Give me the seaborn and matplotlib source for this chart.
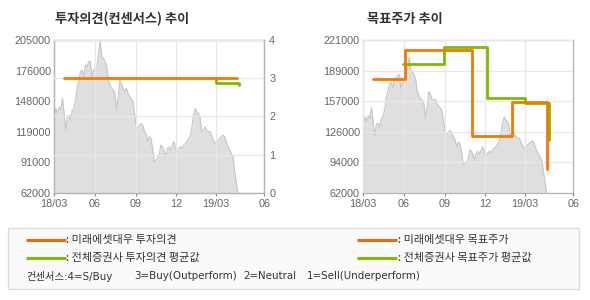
import numpy as np
import pandas as pd
import matplotlib
matplotlib.use("Agg")
import matplotlib.pyplot as plt
from matplotlib.lines import Line2D
from matplotlib.patches import Rectangle
import seaborn as sns

sns.set_theme(style="white")
plt.rcParams['font.family'] = ['Noto Sans CJK KR', 'DejaVu Sans']

# ---------------- data ----------------
price = [133200, 141000, 136300, 142500, 139400, 150400, 136300, 120700, 133200, 134700,
         130100, 139400, 141000, 148800, 161300, 167500, 175300, 176900, 170600, 181600,
         180000, 184700, 184700, 170600, 176900, 178500, 180000, 192500, 203400, 189400,
         187800, 184700, 180000, 167500, 162800, 159700, 158200, 155000, 139400, 151900,
         167500, 164400, 159700, 156600, 159700, 155000, 151900, 150400, 147200, 136300,
         123800, 122300, 125400, 126900, 125400, 119100, 117600, 109800, 114500, 112900,
         103500, 91000, 92600, 94200, 97300, 106600, 105100, 102000, 95700, 103500,
         105100, 102000, 106600, 109800, 103500, 100400, 103500, 105100, 103500, 106600,
         108200, 109800, 112900, 116000, 123800, 134700, 141000, 137900, 136300, 131600,
         119100, 120700, 123800, 120700, 119100, 119100, 116000, 111300, 108200, 109800,
         111300, 112900, 114500, 116000, 114500, 109800, 105100, 102000, 98800, 95700,
         83200, 72300, 62000]
price_start = "2018-03-01"
price_end = "2019-04-20"

opinion_mirae_dates = ["2018-03-23", "2019-04-18"]
opinion_mirae = [3.0, 3.0]
opinion_avg_dates = ["2019-03-01", "2019-03-01", "2019-04-22"]
opinion_avg = [3.0, 2.88, 2.82]

target_mirae_dates = ["2018-03-23", "2018-06-04", "2018-11-01", "2019-02-01", "2019-04-21"]
target_mirae = [180400, 210500, 121300, 156700, 86300]
target_avg_dates = ["2018-05-30", "2018-08-31", "2018-12-05", "2019-03-01", "2019-04-26"]
target_avg = [195700, 214000, 160800, 154900, 116900]

x_tick_dates = ["2018-03-01", "2018-06-01", "2018-09-01", "2018-12-01", "2019-03-01", "2019-06-19"]
x_tick_labels = ["18/03", "06", "09", "12", "19/03", "06"]

left_ylim = (62000, 205000)
left_ytick_labels = ["62000", "91000", "119000", "148000", "176000", "205000"]
opinion_ylim = (0, 4)
opinion_ticks = [0, 1, 2, 3, 4]
right_ylim = (62000, 221000)
right_ytick_labels = ["62000", "94000", "126000", "157000", "189000", "221000"]

titles = ["투자의견(컨센서스) 추이", "목표주가 추이"]
legend_left = [": 미래에셋대우 투자의견", ": 전체증권사 투자의견 평균값"]
legend_right = [": 미래에셋대우 목표주가", ": 전체증권사 목표주가 평균값"]
consensus_note = ["컨센서스:4=S/Buy", "3=Buy(Outperform)", "2=Neutral", "1=Sell(Underperform)"]

# ---------------- style ----------------
ORANGE = "#f77800"
GREEN = "#7fbc00"
LEG_ORANGE = "#e86d0c"
FILL = "#dfdfdf"
EDGE = "#c6c6c6"
GRID = "#e8e8e8"
SPINE = "#b4b4b4"
TICKC = "#666666"
tick_font = dict(family=["Liberation Sans", "DejaVu Sans"], size=7.8)

dates = pd.date_range(price_start, price_end, periods=len(price))
price_df = pd.DataFrame({"date": dates, "price": price})
xt = pd.to_datetime(x_tick_dates)

fig = plt.figure(figsize=(5.9, 3.0), dpi=100)
fig.patch.set_facecolor("white")

W, H = 590.0, 300.0
def fig_rect(x0, y0, x1, y1):
    return [x0 / W, 1 - y1 / H, (x1 - x0) / W, (y1 - y0) / H]

ax1 = fig.add_axes(fig_rect(54.3, 40.0, 264.3, 192.7))
ax3 = fig.add_axes(fig_rect(363.3, 40.0, 573.3, 192.7))


def style_axes(ax, ylim, ylabels):
    ax.set_facecolor("white")
    ax.fill_between(price_df["date"], price_df["price"], ylim[0], color=FILL, lw=0, zorder=1)
    sns.lineplot(data=price_df, x="date", y="price", ax=ax, color=EDGE, lw=0.8,
                 zorder=1.5, estimator=None)
    ax.set_xlim(xt[0], xt[-1])
    ax.set_ylim(*ylim)
    ax.set_xticks(xt)
    ax.set_xticklabels(x_tick_labels, color=TICKC, fontdict=tick_font)
    yt = np.linspace(ylim[0], ylim[1], len(ylabels))
    ax.set_yticks(yt)
    ax.set_yticklabels(ylabels, color=TICKC, fontdict=tick_font)
    ax.tick_params(axis="x", length=2.5, width=0.8, color="#888888", pad=2, bottom=True)
    ax.tick_params(axis="y", length=0, pad=2.5, left=True)
    for s in ax.spines.values():
        s.set_color(SPINE)
        s.set_linewidth(0.9)
        s.set_visible(True)


# ---- left chart ----
style_axes(ax1, left_ylim, left_ytick_labels)
ax1.set_axisbelow(False)
ax1.grid(axis="x", color=GRID, lw=0.9, zorder=2.5)
ax1.grid(axis="y", visible=False)

ax2 = ax1.twinx()
ax2.set_ylim(*opinion_ylim)
ax2.set_yticks(opinion_ticks)
ax2.set_yticklabels([str(t) for t in opinion_ticks], color=TICKC, fontdict=tick_font)
ax2.tick_params(axis="y", length=0, pad=3.5, right=True)
ax2.set_axisbelow(False)
ax2.grid(axis="y", color=GRID, lw=0.9)
ax2.grid(axis="x", visible=False)
for s in ax2.spines.values():
    s.set_color(SPINE)
    s.set_linewidth(0.9)
sns.lineplot(x=pd.to_datetime(opinion_avg_dates), y=opinion_avg, ax=ax2, color=GREEN, lw=2.0,
             drawstyle="steps-post", estimator=None, sort=False, zorder=3)
sns.lineplot(x=pd.to_datetime(opinion_mirae_dates), y=opinion_mirae, ax=ax2, color=ORANGE, lw=2.0,
             drawstyle="steps-post", estimator=None, sort=False, zorder=4)
ax2.set_xlim(xt[0], xt[-1])

# ---- right chart ----
style_axes(ax3, right_ylim, right_ytick_labels)
ax3.set_axisbelow(False)
ax3.grid(axis="both", color=GRID, lw=0.9, zorder=2.5)
sns.lineplot(x=pd.to_datetime(target_avg_dates), y=target_avg, ax=ax3, color=GREEN, lw=2.0,
             drawstyle="steps-post", estimator=None, sort=False, zorder=3)
sns.lineplot(x=pd.to_datetime(target_mirae_dates), y=target_mirae, ax=ax3, color=ORANGE, lw=2.0,
             drawstyle="steps-post", estimator=None, sort=False, zorder=4)
ax3.set_xlim(xt[0], xt[-1])

for a in (ax1, ax2, ax3):
    a.set_xlabel("")
    a.set_ylabel("")

# ---- titles ----
fig.text(55 / W, 1 - 19 / H, titles[0], fontsize=9.5, fontweight="bold", color="#333333",
         va="center", ha="left")
fig.text(367 / W, 1 - 19 / H, titles[1], fontsize=9.5, fontweight="bold", color="#333333",
         va="center", ha="left")

# ---- legend box ----
fig.patches.append(Rectangle((8.3 / W, 1 - 289.3 / H), (579.3 - 8.3) / W, (289.3 - 228) / H,
                             transform=fig.transFigure, facecolor="#fafafa",
                             edgecolor="#dcdcdc", lw=1.0, zorder=0))
rows_y = [240.3, 257.7]
leg_colors = [LEG_ORANGE, GREEN]
for i, y in enumerate(rows_y):
    yf = 1 - y / H
    fig.lines.append(Line2D([26 / W, 65.7 / W], [yf, yf], transform=fig.transFigure,
                            color=leg_colors[i], lw=2.2, solid_capstyle="butt"))
    fig.text(66.5 / W, yf, legend_left[i], fontsize=8, color="#333333", va="center", ha="left")
    fig.lines.append(Line2D([356.7 / W, 396.7 / W], [yf, yf], transform=fig.transFigure,
                            color=leg_colors[i], lw=2.2, solid_capstyle="butt"))
    fig.text(397.5 / W, yf, legend_right[i], fontsize=8, color="#333333", va="center", ha="left")

note_x = [26.7, 134, 243.5, 307]
for txt, nx in zip(consensus_note, note_x):
    fig.text(nx / W, 1 - 276 / H, txt, fontsize=7.4, color="#333333", va="center", ha="left",
             family=["DejaVu Sans", "Noto Sans CJK KR"])

fig.savefig("out.png", dpi=100, facecolor="white")
